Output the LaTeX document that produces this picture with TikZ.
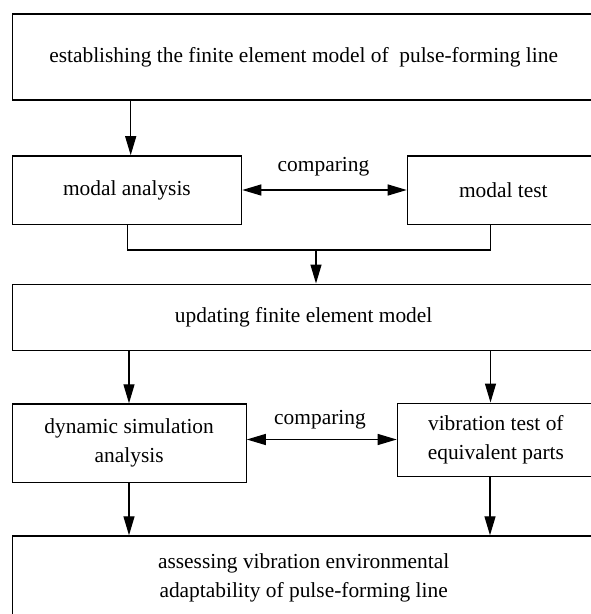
\documentclass[tikz,border=0pt]{standalone}
\usepackage{fontspec}
\setmainfont{Liberation Serif}
\usetikzlibrary{arrows.meta}
\begin{document}
\begin{tikzpicture}[x=1pt,y=-1pt,
  box/.style={draw,line width=1.3pt,font=\fontsize{21.4}{29}\selectfont,align=center,inner sep=0pt},
  conn/.style={line width=1.3pt},
  arr/.style={conn,-{Triangle[length=19pt,width=11pt]}},
  darr/.style={conn,{Triangle[length=19pt,width=11pt]}-{Triangle[length=19pt,width=11pt]}},
  lbl/.style={font=\fontsize{21.4}{24}\selectfont,inner sep=0pt}]
\useasboundingbox (0,0) rectangle (591,614);
\clip (0,0) rectangle (591,614);
\node[box,minimum width=583pt,minimum height=86pt,anchor=north west] (b1) at (11.5,13.3) {establishing the finite element model of\ \ pulse-forming line};
\node[box,minimum width=229.5pt,minimum height=68.5pt,anchor=north west] (b2) at (11.5,155.2) {modal analysis};
\node[box,minimum width=192pt,minimum height=68.5pt,anchor=north west] (b3) at (406.7,155.2) {modal test};
\node[box,minimum width=583pt,minimum height=66.5pt,anchor=north west] (b4) at (11.5,283.5) {updating finite element model};
\node[box,minimum width=234pt,minimum height=78.5pt,anchor=north west] (b5) at (11.5,403.3) {dynamic simulation\\analysis};
\node[box,minimum width=197pt,minimum height=73.5pt,anchor=north west] (b6) at (396.7,402.5) {vibration test of\\equivalent parts};
\node[box,minimum width=583pt,minimum height=84pt,anchor=north west] (b7) at (11.5,535.3) {assessing vibration environmental\\adaptability of pulse-forming line};
\node[lbl] (c1) at (323.5,167) {comparing};
\node[lbl] (c2) at (320,419.5) {comparing};
\coordinate (j) at (316,250);
\draw[arr] (130.7,0 |- b1.south) -- (130.7,0 |- b2.north);
\draw[darr] (b2.east |- 0,190) -- (b3.west |- 0,190);
\draw[conn] (127.7,0 |- b2.south) |- (j) -| (490.7,0 |- b3.south);
\draw[arr] (j) -- (j |- b4.north);
\draw[arr] (129,0 |- b4.south) -- (129,0 |- b5.north);
\draw[arr] (490.5,0 |- b4.south) -- (490.5,0 |- b6.north);
\draw[darr] (b5.east |- 0,439.5) -- (b6.west |- 0,439.5);
\draw[arr] (129,0 |- b5.south) -- (129,0 |- b7.north);
\draw[arr] (490,0 |- b6.south) -- (490,0 |- b7.north);
\end{tikzpicture}
\end{document}
